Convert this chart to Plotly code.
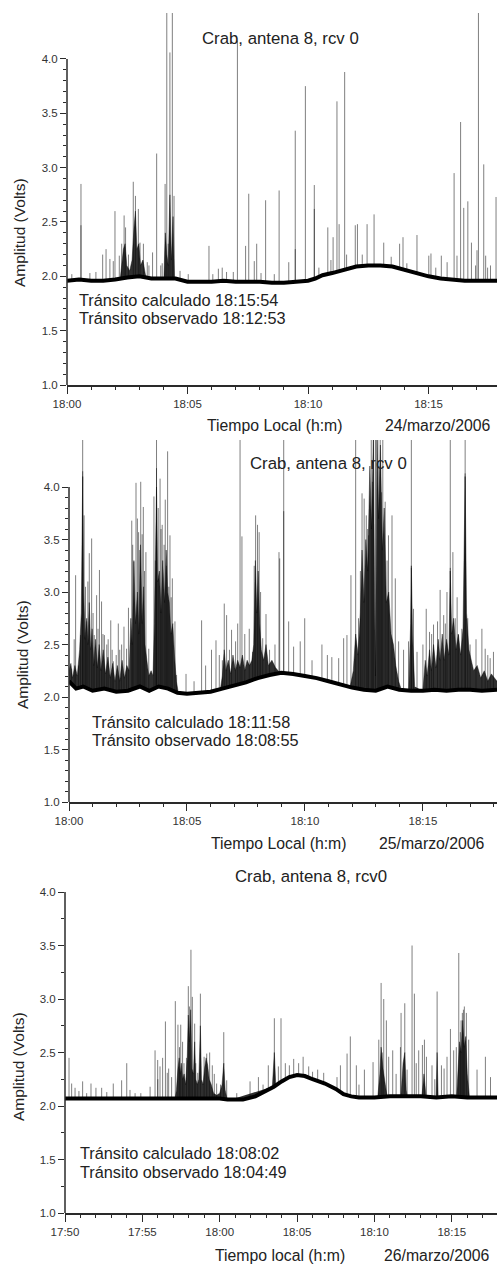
import numpy as np
import pandas as pd
import plotly.graph_objects as go

# ---------------- data (minutes after panel start, volts) ----------------
# Panel 1: 24/marzo/2006, start 18:00
p1_base_t = [0, 0.5, 1, 1.5, 2, 2.5, 3, 3.5, 4, 4.5, 5, 5.5, 6, 6.5, 7, 7.5, 8, 8.5, 9, 9.5,
             10, 10.3, 10.6, 11, 11.5, 12, 12.5, 13, 13.5, 14, 14.5, 15, 15.5, 16, 16.5, 17, 17.5, 17.84]
p1_base_v = [1.96, 1.97, 1.96, 1.96, 1.97, 1.99, 2.00, 1.98, 1.98, 1.98, 1.95, 1.95, 1.95, 1.96, 1.95,
             1.95, 1.95, 1.94, 1.94, 1.95, 1.96, 1.98, 2.01, 2.03, 2.06, 2.09, 2.10, 2.10, 2.09, 2.06,
             2.03, 2.00, 1.98, 1.97, 1.96, 1.96, 1.96, 1.96]
# dense dark core of the noise (upper edge); None separates bursts
p1_core_t = [2.20, 2.27, 2.34, 2.41, 2.48, 2.60, 2.70, 2.78, 2.84, 2.90, 2.98, 3.05, 3.15, 3.25, 3.35,
             None, 4.02, 4.08, 4.14, 4.20, 4.27, 4.33, 4.40, 4.46]
p1_core_v = [1.96, 2.12, 2.25, 2.30, 2.10, 2.05, 2.15, 2.45, 2.60, 2.25, 2.30, 2.10, 2.15, 2.02, 1.96,
             None, 1.98, 2.40, 2.20, 2.10, 2.75, 2.15, 2.55, 1.98]
p1_spk_t = [0.58, 0.58, 1.48, 1.62, 1.78, 1.92, 1.99, 2.17, 2.27, 2.37, 2.43, 2.75, 2.84, 2.96, 3.03,
            3.17, 3.33, 3.55, 3.72, 3.89, 4.07, 4.14, 4.27, 4.37, 4.44, 4.69, 5.03, 5.89, 6.28, 6.44,
            6.62, 7.07, 7.41, 7.54, 7.77, 7.87, 8.24, 8.80, 9.20, 9.47, 9.47, 9.89, 10.26, 10.26, 10.82,
            11.04, 11.20, 11.29, 11.52, 11.96, 12.05, 12.45, 12.74, 13.14, 13.80, 13.94, 14.52, 15.01,
            15.10, 15.53, 15.77, 16.06, 16.18, 16.33, 16.46, 16.63, 16.78, 17.01, 17.07, 17.29, 17.37,
            17.57, 17.80, 0.20, 0.95, 1.20, 2.55, 3.40, 3.95, 4.20, 6.05, 6.90, 8.05, 8.60, 10.45,
            10.95, 11.60, 12.25, 13.45, 14.10, 15.30, 16.95, 17.45]
p1_spk_v = [2.85, 2.47, 2.20, 2.25, 2.16, 2.14, 2.60, 2.19, 2.30, 2.56, 2.45, 2.87, 2.74, 2.62, 2.31,
            2.30, 2.13, 2.22, 3.13, 2.10, 2.85, 4.60, 4.06, 4.60, 2.74, 2.05, 2.02, 2.28, 2.07, 2.08,
            2.04, 4.17, 2.28, 2.76, 2.14, 2.30, 2.70, 2.79, 2.13, 3.34, 2.25, 3.75, 2.84, 2.62, 2.45,
            2.36, 3.61, 2.48, 3.88, 2.47, 2.48, 2.48, 2.57, 2.31, 2.30, 2.36, 2.38, 2.19,
            2.21, 2.19, 2.13, 2.95, 2.19, 3.42, 2.63, 2.69, 2.31, 2.24, 4.60, 3.03, 2.19,
            2.10, 2.73, 2.02, 2.03, 2.04, 2.20, 2.10, 2.12, 2.30, 2.02, 2.04, 2.03, 2.02, 2.08,
            2.15, 2.20, 2.20, 2.18, 2.12, 2.08, 2.10, 2.08]

# Panel 2: 25/marzo/2006, start 18:00
p2_base_t = [0, 0.3, 0.6, 1.0, 1.5, 2.0, 2.5, 3.0, 3.4, 3.8, 4.2, 4.6, 5.0, 5.5, 6.0, 6.5, 7.0, 7.5,
             8.0, 8.5, 9.0, 9.5, 10.0, 10.5, 11.0, 11.5, 12.0, 12.5, 13.0, 13.5, 14.0, 14.5, 15.0,
             15.5, 16.0, 16.5, 17.0, 17.5, 18.14]
p2_base_v = [2.15, 2.08, 2.10, 2.06, 2.08, 2.05, 2.06, 2.10, 2.06, 2.10, 2.08, 2.04, 2.03, 2.04, 2.05,
             2.08, 2.11, 2.14, 2.18, 2.21, 2.23, 2.22, 2.20, 2.18, 2.15, 2.12, 2.09, 2.07, 2.06, 2.10,
             2.07, 2.06, 2.06, 2.07, 2.06, 2.07, 2.07, 2.06, 2.07]
p2_core_t = [0.00, 0.08, 0.15, 0.25, 0.35, 0.45, 0.52, 0.58, 0.62, 0.68, 0.75, 0.80, 0.86, 0.92, 0.98,
             1.05, 1.12, 1.20, 1.28, 1.36, 1.45, 1.55, 1.65, 1.75, 1.85, 1.95, 2.05, 2.15, 2.25, 2.35,
             2.45, 2.55, 2.62, 2.68, 2.75, 2.82, 2.90, 2.96, 3.03, 3.10, 3.16, 3.22, 3.30, 3.38, 3.48,
             3.56, 3.62, 3.68, 3.71, 3.76, 3.83, 3.90, 3.97, 4.05, 4.12, 4.18, 4.25, 4.32, 4.40, 4.47,
             4.55, 4.65, None,
             6.40, 6.50, 6.58, 6.65, 6.75, 6.85, 6.95, 7.05, 7.15, 7.25, 7.35, 7.45, 7.55, 7.65, 7.75,
             7.83, 7.90, 7.96, 8.02, 8.08, 8.15, 8.25, 8.35, 8.45, 8.60, 8.75, 8.90, 9.00, None,
             11.90, 12.05, 12.15, 12.25, 12.35, 12.42, 12.50, 12.58, 12.66, 12.75, 12.82, 12.90, 12.95,
             12.99, 13.05, 13.12, 13.20, 13.28, 13.36, 13.45, 13.55, 13.65, 13.75, 13.85, 13.97, 14.10,
             None, 14.40, 14.48, 14.51, 14.56, 14.65, None,
             15.00, 15.10, 15.18, 15.28, 15.36, 15.45, 15.55, 15.65, 15.73, 15.82, 15.90, 16.00, 16.10,
             16.16, 16.22, 16.30, 16.40, 16.50, 16.60, 16.70, 16.79, 16.85, 16.95, 17.05, 17.15, 17.30,
             17.45, 17.60, 17.75, 17.90, 18.14]
p2_core_v = [2.25, 2.32, 2.18, 2.30, 2.20, 2.45, 2.80, 4.10, 3.00, 2.55, 2.75, 2.50, 2.90, 2.45, 2.65,
             2.30, 2.55, 2.28, 2.50, 2.25, 2.45, 2.22, 2.38, 2.18, 2.32, 2.15, 2.30, 2.15, 2.35, 2.18,
             2.30, 2.25, 2.75, 2.50, 3.30, 2.70, 3.00, 2.60, 3.45, 2.70, 3.05, 2.50, 2.35, 2.20, 2.25,
             2.20, 2.70, 3.40, 4.00, 3.10, 3.20, 2.80, 3.30, 2.90, 3.40, 3.00, 2.90, 2.60, 2.70, 2.40,
             2.15, 2.02, None,
             2.05, 2.20, 2.45, 2.25, 2.35, 2.22, 2.40, 2.25, 2.35, 2.28, 2.40, 2.25, 2.35, 2.30, 2.35,
             2.50, 3.30, 2.80, 3.20, 2.70, 2.45, 2.35, 2.50, 2.30, 2.35, 2.28, 2.24, 2.20, None,
             2.08, 2.25, 2.60, 2.40, 2.80, 3.40, 2.90, 3.50, 3.20, 4.20, 3.60, 4.50, 3.00,
             2.20, 4.50, 3.70, 4.40, 3.40, 3.80, 2.90, 3.00, 2.60, 2.50, 2.30, 2.15, 2.06,
             None, 2.06, 2.70, 3.25, 2.60, 2.10, None,
             2.06, 2.35, 2.20, 2.45, 2.25, 2.50, 2.28, 2.55, 2.35, 2.60, 2.35, 2.55, 2.40,
             3.20, 2.60, 2.75, 2.45, 2.60, 2.40, 2.65, 4.10, 2.80, 2.45, 2.35, 2.25, 2.30,
             2.18, 2.25, 2.15, 2.22, 2.15]
p2_spk_t = [0.11, 0.28, 0.40, 0.49, 0.58, 0.58, 0.64, 0.75, 0.86, 0.96, 1.07, 1.17, 1.29, 1.38, 1.50,
            1.60, 1.77, 1.88, 2.09, 2.23, 2.33, 2.44, 2.66, 2.75, 2.84, 2.95, 3.04, 3.15, 3.26, 3.38,
            3.60, 3.71, 3.71, 3.86, 3.95, 4.08, 4.18, 4.28, 4.38, 4.49, 4.56, 4.96, 5.62, 5.79, 6.04,
            6.23, 6.37, 6.58, 6.68, 6.89, 7.06, 7.25, 7.33, 7.64, 7.78, 7.91, 7.99, 8.06, 8.21, 8.35,
            8.73, 8.90, 8.93, 9.10, 9.10, 9.31, 9.52, 9.80, 9.99, 10.72, 11.14, 11.43, 11.64, 11.78,
            11.95, 12.15, 12.27, 12.42, 12.51, 12.60, 12.70, 12.81, 12.91, 12.99, 13.09, 13.19, 13.30,
            13.40, 13.54, 13.69, 13.83, 13.97, 14.18, 14.39, 14.51, 14.51, 14.60, 14.75, 15.14, 15.28,
            15.45, 15.62, 15.73, 15.88, 16.02, 16.16, 16.16, 16.27, 16.37, 16.51, 16.65, 16.79, 16.79,
            17.00, 17.50, 17.64, 17.85, 17.99,
            0.22, 0.70, 0.80, 1.02, 1.23, 1.44, 1.66, 1.83, 2.00, 2.15, 2.52, 2.70, 2.90, 3.00, 3.10,
            3.20, 3.66, 3.78, 3.90, 4.03, 4.13, 4.23, 4.33, 5.30, 6.50, 6.80, 7.15, 7.45, 7.85, 8.12,
            8.50, 10.30, 10.95, 12.35, 12.66, 12.86, 13.14, 13.25, 13.48, 15.00, 15.37, 15.95, 16.45,
            16.90, 17.25, 17.75]
p2_spk_v = [2.27, 3.16, 2.30, 2.59, 4.60, 4.15, 3.73, 2.72, 3.37, 3.51, 2.59, 2.97, 3.21, 2.91, 2.59,
            2.50, 2.73, 2.34, 2.70, 2.50, 2.67, 2.46, 3.68, 3.29, 4.04, 3.57, 4.05, 3.81, 3.38, 2.46,
            3.91, 4.60, 4.18, 4.08, 3.64, 3.88, 4.34, 3.54, 3.13, 2.72, 2.21, 2.22, 2.73, 2.30, 2.45,
            2.54, 2.40, 2.89, 2.78, 2.64, 2.53, 4.60, 3.53, 2.65, 2.43, 3.73, 3.64, 3.57, 2.56, 2.79,
            2.50, 3.38, 3.32, 4.60, 3.77, 2.72, 2.48, 2.53, 2.75, 2.50, 2.38, 2.37, 2.56, 2.59,
            3.16, 4.60, 2.75, 3.94, 3.89, 3.73, 3.54, 4.60, 4.60, 4.60, 4.60, 4.60, 4.60,
            3.86, 3.54, 3.73, 3.13, 2.53, 2.45, 2.53, 4.60, 3.23, 2.84, 2.43, 2.84, 2.62,
            2.69, 2.72, 3.02, 2.78, 3.00, 4.60, 3.23, 3.38, 2.75, 2.59, 2.65, 4.60, 4.13,
            2.50, 2.65, 2.46, 2.37, 2.43,
            2.55, 3.05, 3.10, 2.80, 2.65, 2.60, 2.55, 2.45, 2.40, 2.45, 2.85, 3.45, 3.70, 3.40, 3.55,
            3.20, 3.30, 3.80, 3.60, 3.45, 3.25, 3.05, 2.95, 2.15, 2.35, 2.45, 2.70, 2.60, 3.25, 3.00,
            2.45, 2.35, 2.40, 3.20, 3.60, 4.05, 4.20, 3.95, 3.30, 2.50, 2.60, 2.70, 2.95,
            2.75, 2.55, 2.40]

# Panel 3: 26/marzo/2006, start 17:50
p3_base_t = [0, 2, 4, 6, 8, 10, 10.5, 11.5, 12.3, 12.9, 13.5, 14.0, 14.5, 15.0, 15.5, 16.0, 16.8,
             17.5, 18.0, 18.5, 19, 20, 21, 22, 23, 24, 25, 26, 27, 27.92]
p3_base_v = [2.07, 2.07, 2.07, 2.07, 2.07, 2.07, 2.06, 2.06, 2.09, 2.13, 2.18, 2.23, 2.27, 2.29, 2.28,
             2.25, 2.21, 2.16, 2.11, 2.09, 2.08, 2.08, 2.09, 2.09, 2.09, 2.08, 2.09, 2.08, 2.08, 2.08]
p3_core_t = [7.10, 7.20, 7.30, 7.38, 7.45, 7.52, 7.60, 7.70, 7.80, 7.90, 7.97, 8.04, 8.12, 8.20, 8.30,
             8.38, 8.45, 8.55, 8.65, 8.75, 8.82, 8.92, 9.02, 9.12, 9.22, 9.32, 9.45, 9.60, 9.80, 10.00,
             10.15, 10.26, 10.35, 10.50, None,
             13.40, 13.53, 13.62, None,
             20.20, 20.35, 20.43, 20.55, 20.70, 20.85, None,
             21.70, 21.85, 21.96, 22.05, 22.15, None,
             23.05, 23.20, 23.35, None, 23.98, 24.05, 24.12, None,
             25.30, 25.40, 25.50, 25.60, 25.70, 25.80, 25.90, 26.00, 26.15]
p3_core_v = [2.05, 2.15, 2.35, 2.45, 2.30, 2.40, 2.25, 2.30, 2.20, 2.45, 2.85, 2.60, 2.90, 2.35, 2.30,
             2.60, 2.25, 2.20, 2.25, 2.75, 2.25, 2.20, 2.35, 2.45, 2.38, 2.25, 2.20, 2.12, 2.10, 2.12,
             2.20, 2.40, 2.15, 2.05, None,
             2.18, 2.50, 2.20, None,
             2.06, 2.30, 2.55, 2.35, 2.20, 2.06, None,
             2.06, 2.40, 2.50, 2.15, 2.06, None,
             2.06, 2.30, 2.06, None, 2.06, 2.50, 2.06, None,
             2.06, 2.35, 2.60, 2.50, 2.80, 2.55, 2.65, 2.30, 2.06]
p3_spk_t = [0.26, 0.43, 0.65, 1.14, 1.68, 2.00, 2.37, 3.12, 3.66, 3.99, 4.53, 5.50, 5.82, 5.99, 6.14,
            6.31, 6.49, 6.61, 6.89, 7.13, 7.30, 7.48, 7.69, 7.97, 8.04, 8.14, 8.23, 8.38, 8.58, 8.75,
            8.99, 9.16, 9.52, 9.80, 10.26, 10.45, 11.10, 11.96, 12.50, 13.14, 13.53, 13.79, 13.96,
            14.24, 14.78, 15.39, 15.75, 16.33, 16.72, 17.58, 17.80, 18.23, 18.44, 18.83, 19.35, 19.91,
            20.28, 20.43, 20.60, 20.77, 20.92, 21.18, 21.68, 21.72, 21.96, 22.11, 22.43, 22.58, 22.86,
            23.10, 23.23, 23.36, 23.72, 24.05, 24.33, 24.69, 24.91, 25.12, 25.29, 25.45, 25.55, 25.68,
            25.81, 25.94, 26.09, 26.63, 27.17, 27.50,
            0.90, 1.40, 2.70, 4.20, 4.90, 6.00, 6.70, 7.40, 7.60, 7.85, 8.45, 9.35, 9.65, 10.05,
            12.80, 14.50, 15.10, 16.00, 19.00, 20.50, 21.40, 22.70, 23.90, 24.50, 25.60, 25.75]
p3_spk_v = [2.45, 2.21, 2.17, 2.23, 2.21, 2.17, 2.17, 2.21, 2.24, 2.40, 2.12, 2.18, 2.52, 2.43, 2.37,
            2.45, 2.79, 2.31, 2.27, 2.98, 2.76, 2.76, 2.40, 3.12, 2.93, 3.46, 3.02, 2.77, 2.31, 3.05,
            2.46, 2.49, 2.38, 2.21, 2.69, 2.24, 2.12, 2.23, 2.27, 2.38, 2.82, 2.37, 2.82,
            2.40, 2.44, 2.46, 2.37, 2.34, 2.31, 2.27, 2.38, 2.49, 2.65, 2.38, 2.34, 2.41,
            2.62, 3.15, 3.00, 2.80, 2.46, 2.52, 2.55, 2.87, 2.96, 2.34, 3.50, 3.05, 2.52,
            2.57, 2.62, 2.46, 2.38, 3.07, 2.38, 2.46, 2.72, 2.52, 2.55, 3.43, 2.69, 2.87,
            2.93, 2.87, 2.62, 2.34, 2.46, 2.27,
            2.14, 2.12, 2.13, 2.15, 2.12, 2.25, 2.35, 2.55, 2.60, 2.45, 2.40, 2.50, 2.30, 2.20,
            2.20, 2.38, 2.40, 2.32, 2.20, 2.50, 2.30, 2.40, 2.25, 2.35, 2.80, 2.90]

panel_start = ["2006-03-24 18:00:00", "2006-03-25 18:00:00", "2006-03-26 17:50:00"]
panel_end_min = [17.84, 18.14, 27.92]
titles = ["Crab, antena 8, rcv 0", "Crab, antena 8, rcv 0", "Crab, antena 8, rcv0"]
xlabels = ["Tiempo Local (h:m)", "Tiempo Local (h:m)", "Tiempo local (h:m)"]
dates = ["24/marzo/2006", "25/marzo/2006", "26/marzo/2006"]
calc = ["Tránsito calculado 18:15:54", "Tránsito calculado 18:11:58", "Tránsito calculado 18:08:02"]
obs = ["Tránsito observado 18:12:53", "Tránsito observado 18:08:55", "Tránsito observado 18:04:49"]
ytick_vals = [1.0, 1.5, 2.0, 2.5, 3.0, 3.5, 4.0]

bases = [(p1_base_t, p1_base_v), (p2_base_t, p2_base_v), (p3_base_t, p3_base_v)]
cores = [(p1_core_t, p1_core_v), (p2_core_t, p2_core_v), (p3_core_t, p3_core_v)]
spikes = [(p1_spk_t, p1_spk_v), (p2_spk_t, p2_spk_v), (p3_spk_t, p3_spk_v)]

# ---------------- layout geometry (pixels in a 497 x 1266 page) ----------------
W, H = 497, 1266
geom = [
    dict(left=67, y1px=385, toppx=13, ytop=4.423, minor=0.1),
    dict(left=69, y1px=802, toppx=440, ytop=4.448, minor=0.1),
    dict(left=65, y1px=1213, toppx=892, ytop=4.0, minor=0.25),
]
title_pos = [(280, 38), (328, 463), (311, 877)]
ylab_pos = [(19, 233), (22, 655), (18, 1067)]
ann_pos = [(77, 300, 318), (90, 722, 740), (78, 1153, 1172)]
xlab_pos = [(275, 425), (279, 843), (280, 1255)]
date_pos = [(438, 425), (432, 843), (437, 1255)]
FONT = "Liberation Sans, Arial, Helvetica, sans-serif"
AX = "#2a2a2a"

fig = go.Figure()
annotations = []
shapes = []
LOW = 1.5

for i in range(3):
    n = i + 1
    xa = "x" if n == 1 else f"x{n}"
    ya = "y" if n == 1 else f"y{n}"
    t0 = pd.Timestamp(panel_start[i])

    def tt(m):
        if m is None:
            return None
        return (t0 + pd.to_timedelta(m, unit="min")).strftime("%Y-%m-%d %H:%M:%S.%f")

    st, sv = spikes[i]
    xs, ys = [], []
    for t, v in zip(st, sv):
        xs += [tt(t), tt(t), None]
        ys += [LOW, v, None]
    fig.add_trace(go.Scatter(x=xs, y=ys, mode="lines", xaxis=xa, yaxis=ya,
                             line=dict(color="rgba(0,0,0,0.5)", width=1),
                             hoverinfo="skip", showlegend=False))
    ct, cv = cores[i]
    fig.add_trace(go.Scatter(x=[tt(t) for t in ct], y=cv, mode="lines", xaxis=xa, yaxis=ya,
                             line=dict(color="rgba(10,10,10,0.85)", width=0.5), fill="tozeroy",
                             fillcolor="rgba(10,10,10,0.85)", connectgaps=False,
                             hoverinfo="skip", showlegend=False))
    bt, bv = bases[i]
    fig.add_trace(go.Scatter(x=[tt(t) for t in bt], y=bv, mode="lines", xaxis=xa, yaxis=ya,
                             line=dict(color="black", width=4), fill="tozeroy",
                             fillcolor="white", hoverinfo="skip", showlegend=False))

    g = geom[i]
    xdom = [g["left"] / W, 1.0]
    ydom = [1 - g["y1px"] / H, 1 - g["toppx"] / H]
    minor_vals = [round(v, 2) for v in np.arange(1.0, 4.0001, g["minor"])]
    tick0 = t0.strftime("%Y-%m-%d %H:%M:%S")
    fig.update_layout(**{
        ("xaxis" if n == 1 else f"xaxis{n}"): dict(
            type="date", domain=xdom, anchor=ya,
            range=[tt(0), tt(panel_end_min[i])],
            showline=True, linecolor=AX, linewidth=1.5, showgrid=False, zeroline=False,
            ticks="outside", ticklen=7, tickwidth=1.2, tickcolor=AX,
            tick0=tick0, dtick=300000, tickformat="%H:%M", automargin=False,
            tickfont=dict(family=FONT, size=11.5, color="#333"),
            minor=dict(dtick=60000, tick0=tick0, ticks="outside", ticklen=3.5,
                       tickwidth=1, tickcolor=AX, showgrid=False),
        ),
        ("yaxis" if n == 1 else f"yaxis{n}"): dict(
            domain=ydom, anchor=xa, range=[1.0, g["ytop"]],
            showline=False, showgrid=False, zeroline=False, automargin=False,
            tickmode="array", tickvals=ytick_vals,
            ticktext=[f"{v:.1f}" for v in ytick_vals],
            ticks="outside", ticklen=6, tickwidth=1.2, tickcolor=AX,
            tickfont=dict(family=FONT, size=11.5, color="#333"),
            minor=dict(tickmode="array", tickvals=minor_vals, ticks="outside",
                       ticklen=3.5, tickwidth=1, tickcolor=AX, showgrid=False),
        ),
    })
    shapes.append(dict(type="line", xref=f"{xa} domain", yref=ya, x0=0, x1=0, y0=1.0, y1=4.0,
                       line=dict(color=AX, width=1.5)))

    def pa(px, py, text, size=16, xanchor="center", angle=0):
        annotations.append(dict(x=px / W, y=1 - py / H, xref="paper", yref="paper",
                                text=text, showarrow=False, xanchor=xanchor, yanchor="middle",
                                textangle=angle,
                                font=dict(family=FONT, size=size, color="#222")))

    pa(*title_pos[i], titles[i], size=16.8)
    pa(*ylab_pos[i], "Amplitud (Volts)", size=15.5, angle=-90)
    ax_, y_a, y_b = ann_pos[i]
    pa(ax_, y_a, calc[i], size=16.3, xanchor="left")
    pa(ax_, y_b, obs[i], size=16.3, xanchor="left")
    pa(*xlab_pos[i], xlabels[i], size=15.8)
    pa(*date_pos[i], dates[i], size=15.8)

fig.update_layout(width=W, height=H,
                  margin=dict(l=0, r=0, t=0, b=0, pad=0, autoexpand=False),
                  paper_bgcolor="white", plot_bgcolor="white", showlegend=False,
                  annotations=annotations, shapes=shapes)
fig.write_html("out.html")
